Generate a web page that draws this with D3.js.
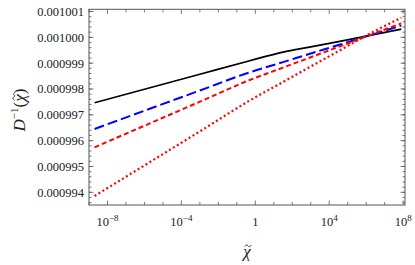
<!DOCTYPE html>
<html><head><meta charset="utf-8">
<script src="https://cdn.jsdelivr.net/npm/d3@7"></script>
<style>body{margin:0;background:#fff} svg{display:block}</style>
</head><body><svg id="c" width="415" height="265"></svg>
<script>
// ---- data ----
const xValues = [2e-9, 1e-6, 1e-3, 0.5, 31.6, 1000, 31623, 1e6, 7.94e7];
const seriesBlackSolid = [0.000997469, 0.000997991, 0.000998572, 0.000999095, 0.000999428, 0.000999629, 0.000999834, 0.001000047, 0.001000318];
const seriesBlueLongDash = [0.000996451, 0.000997159, 0.000997941, 0.000998646, 0.000999041, 0.000999374, 0.000999703, 0.001000036, 0.001000454];
const seriesRedDashed = [0.000995742, 0.000996578, 0.000997508, 0.000998348, 0.000998828, 0.000999230, 0.000999629, 0.001000032, 0.001000539];
const seriesRedDotted = [0.000993857, 0.000995041, 0.000996358, 0.000997554, 0.000998270, 0.000998870, 0.000999466, 0.001000067, 0.001000760];
const xTickExponents = [-8, -4, 0, 4, 8];
const xMinorExponents = [-9,-8,-7,-6,-5,-4,-3,-2,-1,0,1,2,3,4,5,6,7,8];
const yTickValues = [0.000994, 0.000995, 0.000996, 0.000997, 0.000998, 0.000999, 0.001000, 0.001001];
const xDomain = [1e-9, 1.2589e8];
const yDomain = [0.00099350829, 0.00100108517];

// ---- layout ----
const L = 89, R = 405, T = 9.3, B = 205;
const FONT = '"Liberation Serif","Times New Roman",serif';
const svg = d3.select("#c");
const x = d3.scaleLog().domain(xDomain).range([L, R]);
const y = d3.scaleLinear().domain(yDomain).range([B, T]);
const axisCol = "#555";
const textCol = "#222";

svg.append("defs").append("clipPath").attr("id","clip")
  .append("rect").attr("x",L).attr("y",T).attr("width",R-L).attr("height",B-T);

// ticks
const g = svg.append("g").attr("stroke", axisCol).attr("stroke-width", 0.8);
xMinorExponents.forEach(e => {
  const px = x(Math.pow(10, e));
  const len = xTickExponents.includes(e) ? 4.5 : 3;
  g.append("line").attr("x1",px).attr("x2",px).attr("y1",B).attr("y2",B-len);
  g.append("line").attr("x1",px).attr("x2",px).attr("y1",T).attr("y2",T+len);
});
const yMinor = d3.range(0, 40).map(i => 0.0009934 + i*0.2e-6).filter(v => v >= yDomain[0] && v <= yDomain[1]);
yMinor.forEach(v => {
  const py = y(v);
  g.append("line").attr("x1",L).attr("x2",L+2.5).attr("y1",py).attr("y2",py);
  g.append("line").attr("x1",R).attr("x2",R-2.5).attr("y1",py).attr("y2",py);
});
yTickValues.forEach(v => {
  const py = y(v);
  g.append("line").attr("x1",L).attr("x2",L+4.5).attr("y1",py).attr("y2",py);
  g.append("line").attr("x1",R).attr("x2",R-4.5).attr("y1",py).attr("y2",py);
});

// lines
const line = d3.line().x((d,i) => x(xValues[i])).y(d => y(d)).curve(d3.curveMonotoneX);
const lg = svg.append("g").attr("clip-path","url(#clip)").attr("fill","none");
lg.append("path").attr("d", line(seriesBlackSolid)).attr("stroke","#000").attr("stroke-width",1.7);
lg.append("path").attr("d", line(seriesBlueLongDash)).attr("stroke","#0000ff").attr("stroke-width",2).attr("stroke-dasharray","10,4");
lg.append("path").attr("d", line(seriesRedDashed)).attr("stroke","#ff0000").attr("stroke-width",2).attr("stroke-dasharray","5,3");
lg.append("path").attr("d", line(seriesRedDotted)).attr("stroke","#ff0000").attr("stroke-width",2.2).attr("stroke-dasharray","2,2.6");

// frame
svg.append("rect").attr("x",L).attr("y",T).attr("width",R-L).attr("height",B-T)
  .attr("fill","none").attr("stroke",axisCol).attr("stroke-width",1);

// y tick labels
const fmt = d3.format(".6f");
svg.append("g").selectAll("text").data(yTickValues).join("text")
  .attr("x", L-5).attr("y", d => y(d)).attr("dy","0.35em")
  .attr("text-anchor","end").attr("font-size",12.5).attr("fill",textCol)
  .style("font-family", FONT)
  .text(d => fmt(d));

// x tick labels
xTickExponents.forEach(e => {
  const t = svg.append("text").attr("x", x(Math.pow(10,e))).attr("y", 226)
    .attr("text-anchor","middle").attr("font-size",12.5).attr("fill",textCol).style("font-family", FONT);
  if (e === 0) { t.text("1"); }
  else {
    t.append("tspan").text("10");
    t.append("tspan").attr("dy",-5).attr("font-size",9).text(e < 0 ? "\u2212" + (-e) : String(e));
  }
});

// tilde drawn as a small path over a character
function addTilde(parent, textNode, idx) {
  const ext = textNode.getExtentOfChar(idx);
  const cx = ext.x + ext.width/2 + 1, cy = ext.y + ext.height*0.2;
  const w = 3.2, a = 1.1;
  parent.append("path")
    .attr("d", `M${cx-w},${cy+a*0.7} C${cx-w*0.6},${cy-a*1.3} ${cx-w*0.25},${cy-a} ${cx},${cy} S${cx+w*0.6},${cy+a*1.3} ${cx+w},${cy-a*0.7}`)
    .attr("fill","none").attr("stroke",textCol).attr("stroke-width",0.9);
}

// x axis title
const xt = svg.append("text").attr("x", 247).attr("y", 257).attr("text-anchor","middle")
  .attr("font-size",17).attr("font-style","italic").attr("fill",textCol).style("font-family", FONT).text("\u03C7");
addTilde(svg, xt.node(), 0);

// y axis title
const yg = svg.append("g").attr("transform","translate(25,110) rotate(-90)");
const yt = yg.append("text").attr("text-anchor","middle").attr("font-size",17).attr("fill",textCol).style("font-family", FONT);
yt.append("tspan").attr("font-style","italic").text("D");
yt.append("tspan").attr("dy",-7).attr("font-size",11).text("\u22121");
yt.append("tspan").attr("dy",7).text("(");
yt.append("tspan").attr("font-style","italic").text("\u03C7");
yt.append("tspan").text(")");
addTilde(yg, yt.node(), 4);
</script></body></html>
